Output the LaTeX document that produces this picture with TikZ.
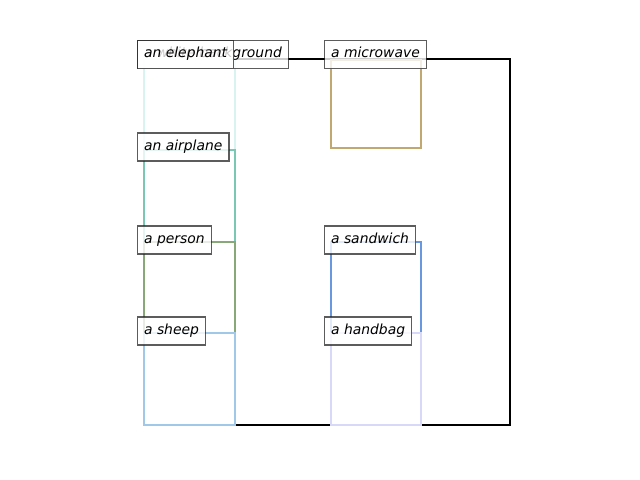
\documentclass[tikz,border=0pt]{standalone}
\usepackage{fontspec}
\setmainfont{DejaVu Sans}
\definecolor{cbg}{HTML}{000000}
\definecolor{celephant}{HTML}{D8F4F0}
\definecolor{cairplane}{HTML}{78C8B4}
\definecolor{cperson}{HTML}{88A878}
\definecolor{csheep}{HTML}{A0C8E8}
\definecolor{cmicrowave}{HTML}{C0A870}
\definecolor{csandwich}{HTML}{6898E0}
\definecolor{chandbag}{HTML}{D8D8F8}
\begin{document}
\begin{tikzpicture}[x=0.72pt,y=-0.72pt,
  bx/.style={line width=1.8pt},
  lbl/.style={draw=black!85, draw opacity=0.75, fill=white, fill opacity=0.8, text opacity=1,
    line width=0.8pt, anchor=base west, inner xsep=4.7pt, inner ysep=4.74pt,
    text height=7.5pt, text depth=3.18pt, font=\itshape\fontsize{10}{12}\selectfont}]
\useasboundingbox (0,0) rectangle (640,480);
% boxes
\draw[line width=1.8pt, cbg] (144,59) rectangle (510,425);
\draw[bx, celephant] (144,59) rectangle (235,150);
\draw[bx, cairplane] (144,150) rectangle (235,242);
\draw[bx, cperson] (144,242) rectangle (235,333);
\draw[bx, csheep] (144,333) rectangle (235,425);
\draw[bx, cmicrowave] (331,60) rectangle (421,148);
\draw[bx, csandwich] (331,242) rectangle (421,333);
\draw[bx, chandbag] (331,333) rectangle (421,425);
% labels
\node[lbl] (lbg) at (137,57.5) {a white background};
\node[lbl] (lelephant) at (137,57.5) {an elephant};
\node[lbl] (lairplane) at (137,150) {an airplane};
\node[lbl] (lperson) at (137,243) {a person};
\node[lbl] (lsheep) at (137,334) {a sheep};
\node[lbl] (lmicrowave) at (324,57.5) {a microwave};
\node[lbl] (lsandwich) at (324,243) {a sandwich};
\node[lbl] (lhandbag) at (324,334) {a handbag};
\end{tikzpicture}
\end{document}
